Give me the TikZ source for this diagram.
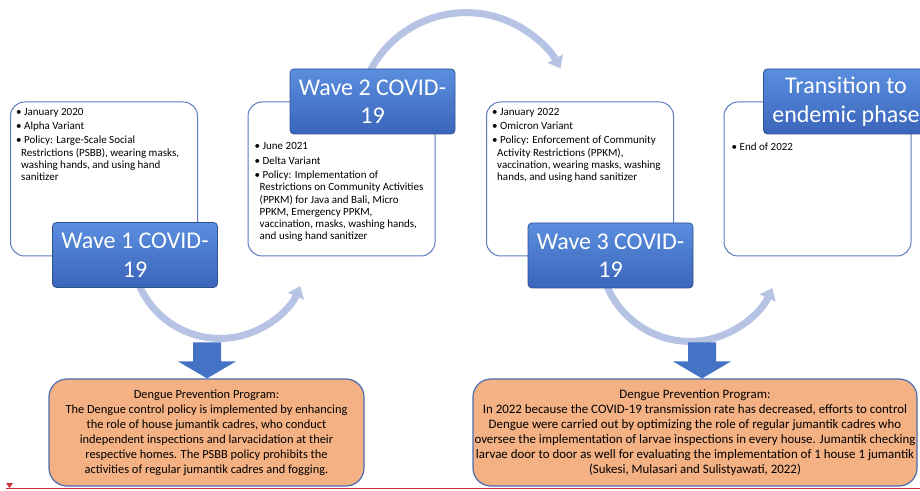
\documentclass[tikz,border=0pt]{standalone}
\usepackage{fontspec}
\setmainfont{Carlito}
\usetikzlibrary{positioning}
\usetikzlibrary{arrows.meta}
\usetikzlibrary{backgrounds}
\definecolor{wavetop}{HTML}{5B8EDF}
\definecolor{wavebot}{HTML}{3A65BA}
\definecolor{waveedge}{HTML}{2F528F}
\definecolor{boxedge}{HTML}{5B7CBD}
\definecolor{dengue}{HTML}{F4B183}
\definecolor{denguedge}{HTML}{4A6BB0}
\definecolor{arcblue}{HTML}{B7C3E5}
\definecolor{downblue}{HTML}{4472C4}
\definecolor{marker}{HTML}{C8323A}
\newcommand{\bul}{\textbullet\ }

\begin{document}
\begin{tikzpicture}[x=1pt,y=1pt,
  infobox/.style={rectangle,rounded corners=14pt,draw=boxedge,line width=1pt,fill=white,minimum width=187pt,minimum height=154pt},
  wavebox/.style={rectangle,rounded corners=4pt,draw=waveedge,line width=0.8pt,top color=wavetop,bottom color=wavebot,text=white,minimum width=165pt,minimum height=65pt,align=center,inner sep=0pt,font=\fontsize{24}{28.5}\selectfont},
  items/.style={align=left,inner sep=0pt,font=\fontsize{11}{12.3}\selectfont},
  dnode/.style={rectangle,rounded corners=18pt,draw=denguedge,line width=1.2pt,fill=dengue,minimum height=107pt,inner sep=0pt,align=center},
  flow/.style={draw=arcblue,line width=7pt,-{Triangle[width=17pt,length=11pt]}},
  down/.style={fill=downblue}]
		\useasboundingbox (0,0) rectangle (920,490);
		\clip (0,0) rectangle (920,490);
		\node[infobox] (info1) at (104,311) {};
		\node[infobox] (info2) at (341.5,311) {};
		\node[infobox] (info3) at (580,311) {};
		\node[infobox] (info4) at (817.5,311) {};
		\node[items] (list1) [below right = 6.5pt and 6pt of info1.north west] {\bul January 2020\\[2pt] \bul Alpha Variant\\[2pt] \bul Policy: Large-Scale Social\\ \hspace*{5pt}Restrictions (PSBB), wearing masks,\\ \hspace*{5pt}washing hands, and using hand\\ \hspace*{5pt}sanitizer};
		\node[items] (list2) [below right = 41pt and 7pt of info2.north west] {\bul June 2021\\[2pt] \bul Delta Variant\\[2pt] \bul Policy: Implementation of\\ \hspace*{5pt}Restrictions on Community Activities\\ \hspace*{5pt}(PPKM) for Java and Bali, Micro\\ \hspace*{5pt}PPKM, Emergency PPKM,\\ \hspace*{5pt}vaccination, masks, washing hands,\\ \hspace*{5pt}and using hand sanitizer};
		\node[items] (list3) [below right = 6.5pt and 6pt of info3.north west] {\bul January 2022\\[2pt] \bul Omicron Variant\\[2pt] \bul Policy: Enforcement of Community\\ \hspace*{5pt}Activity Restrictions (PPKM),\\ \hspace*{5pt}vaccination, wearing masks, washing\\ \hspace*{5pt}hands, and using hand sanitizer};
		\node[items] (list4) [below right = 41pt and 8pt of info4.north west] {\bul End of 2022};
		\node[wavebox] (wave1) at (135,235) {Wave 1 COVID-\\19};
		\node[wavebox] (wave2) at (372.5,388.5) {Wave 2 COVID-\\19};
		\node[wavebox] (wave3) at (610.5,234.5) {Wave 3 COVID-\\19};
		\node[wavebox] (wave4) at (846,388.5) {Transition to\\endemic phase};
		\begin{scope}[on background layer]
		\draw[flow] ([shift={(1.3,10.3)}]wave1.south) arc[start angle=198,end angle=336,radius=88];
		\draw[flow] ([shift={(-2.7,-3)}]wave2.north) arc[start angle=153,end angle=29,radius=108];
		\draw[flow] ([shift={(-6.1,9.2)}]wave3.south) arc[start angle=198,end angle=336,radius=90];
		\end{scope}
		\node[dnode,minimum width=315pt,font=\fontsize{12.4}{15}\selectfont] (dengue1) at (206.5,57.5) {Dengue Prevention Program:\\The Dengue control policy is implemented by enhancing\\the role of house jumantik cadres, who conduct\\independent inspections and larvacidation at their\\respective homes. The PSBB policy prohibits the\\activities of regular jumantik cadres and fogging.};
		\node[dnode,minimum width=444pt,font=\fontsize{12.9}{15}\selectfont] (dengue2) at (695,57.5) {Dengue Prevention Program:\\In 2022 because the COVID-19 transmission rate has decreased, efforts to control\\Dengue were carried out by optimizing the role of regular jumantik cadres who\\oversee the implementation of larvae inspections in every house. Jumantik checking\\larvae door to door as well for evaluating the implementation of 1 house 1 jumantik\\(Sukesi, Mulasari and Sulistyawati, 2022)};
		\coordinate (tip1) at ([xshift=0.5pt]dengue1.north);
		\coordinate (tip2) at ([xshift=7pt]dengue2.north);
		\fill[down] (tip1) -- ++(29,17) -- ++(-15,0) -- ++(0,19) -- ++(-28,0) -- ++(0,-19) -- ++(-15,0) -- cycle;
		\fill[down] (tip2) -- ++(29,17) -- ++(-15,0) -- ++(0,19) -- ++(-28,0) -- ++(0,-19) -- ++(-15,0) -- cycle;
		\draw[marker,line width=0.8pt] (6,2) -- (920,2);
		\fill[marker] (6,7) -- (13,7) -- (9.5,2) -- cycle;
	\end{tikzpicture}
\end{document}
